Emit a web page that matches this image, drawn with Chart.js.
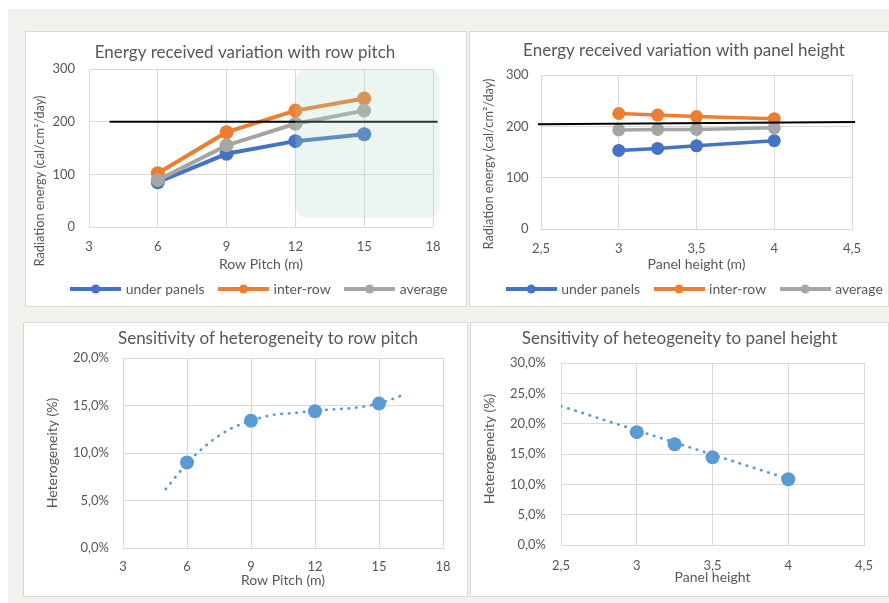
<!DOCTYPE html>
<html>
<head>
<meta charset="utf-8">
<script src="https://cdn.jsdelivr.net/npm/chart.js@4.4.1/dist/chart.umd.min.js"></script>
<style>
  body { margin: 0; background: #fff; width: 889px; height: 603px; overflow: hidden; }
  .sheet { position: absolute; left: 8px; top: 9px; width: 881px; height: 594px; background: #f2f1ed; }
  .panel { position: absolute; background: #fff; border: 1px solid #d9d9d9; }
  .panel canvas { display: block; }
</style>
</head>
<body>
<div class="sheet"></div>
<div class="panel" style="left:25px;top:31px;"><canvas id="pitchEnergy" width="440" height="274"></canvas></div>
<div class="panel" style="left:469px;top:31px;"><canvas id="heightEnergy" width="418" height="274"></canvas></div>
<div class="panel" style="left:23px;top:322px;"><canvas id="pitchHetero" width="443" height="273"></canvas></div>
<div class="panel" style="left:470px;top:322px;"><canvas id="heightHetero" width="417" height="273"></canvas></div>
<script>
// row pitch study (m) -> radiation energy (cal/cm2/day)
const pitchValues = [6, 9, 12, 15];
const pitchUnderPanels = [85, 139, 163, 176];
const pitchInterRow = [102, 180, 221, 244];
const pitchAverage = [89, 155, 196, 221];
const pitchRefX = [3.9, 18.2];
const pitchRefY = [200, 200];
const pitchZoneX = [12, 18.3];
const pitchZoneY = [17, 300];
const pitchTicks = [3, 6, 9, 12, 15, 18];
const energyTicks = [0, 100, 200, 300];

// panel height study (m)
const heightValues = [3, 3.25, 3.5, 4];
const heightUnderPanels = [153, 157, 162, 172];
const heightInterRow = [225, 222, 219, 215];
const heightAverage = [193, 194, 194, 197];
const heightRefX = [2.48, 4.52];
const heightRefY = [204, 208.5];
const heightTicks = [2.5, 3, 3.5, 4, 4.5];

// heterogeneity (%)
const pitchHetero = [9.0, 13.4, 14.4, 15.2];
const pitchTrendX = [5, 6, 7, 8, 9, 10, 11, 12, 13, 14, 15, 16];
const pitchTrendY = [6.2, 8.9, 11.0, 12.5, 13.4, 14.0, 14.2, 14.45, 14.6, 14.8, 15.2, 16.0];
const heightHetero = [18.6, 16.6, 14.45, 10.85];
const heightTrendX = [2.5, 4];
const heightTrendY = [22.9, 10.9];
const heteroPitchTicks = [0, 5, 10, 15, 20];
const heteroHeightTicks = [0, 5, 10, 15, 20, 25, 30];

const BLUE = '#4472C4', ORANGE = '#ED7D31', GREY = '#A5A5A5', LIGHTBLUE = '#5B9BD5';
const GRID = '#d9d9d9', TEXT = '#575757';
const FONT = "Lato, 'Open Sans', sans-serif";

Chart.defaults.font.family = FONT;
Chart.defaults.color = TEXT;
Chart.defaults.animation = false;

const toPoints = (xs, ys) => xs.map((x, i) => ({ x, y: ys[i] }));
const plain = v => v;
const comma = v => String(v).replace('.', ',');
const pct = v => v.toFixed(1).replace('.', ',') + '%';

// legend marker: thick line with a dot in the middle, like the spreadsheet
const legendSwatch = color => {
    const c = document.createElement('canvas');
    c.width = 51;
    c.height = 10;
    const g = c.getContext('2d');
    g.strokeStyle = color;
    g.lineWidth = 4;
    g.beginPath();
    g.moveTo(0, 5);
    g.lineTo(51, 5);
    g.stroke();
    g.fillStyle = color;
    g.beginPath();
    g.arc(25.5, 5, 4.5, 0, Math.PI * 2);
    g.fill();
    return c;
};

// vertical axis title, placed like the spreadsheet does (not centred on the axis)
const axisTitle = {
    id: 'axisTitle',
    afterDraw(chart, args, opts) {
        if (!opts.text) return;
        const ctx = chart.ctx;
        ctx.save();
        ctx.translate(opts.x, opts.y);
        ctx.rotate(-Math.PI / 2);
        ctx.font = (opts.size || 14) + 'px ' + FONT;
        ctx.fillStyle = TEXT;
        ctx.textAlign = 'center';
        ctx.textBaseline = 'middle';
        ctx.fillText(opts.text, 0, 0);
        ctx.restore();
    }
};

const shiftBoxes = {
    id: 'shiftBoxes',
    afterLayout(chart, args, opts) {
        [[chart.titleBlock, opts.title], [chart.legend, opts.legend]].forEach(([box, dx]) => {
            if (box && dx) {
                box.left += dx;
                box.right += dx;
            }
        });
    }
};

// shaded area drawn over the plot
const zone = {
    id: 'zone',
    afterDatasetsDraw(chart, args, opts) {
        if (!opts.xs) return;
        const { x, y } = chart.scales;
        const left = x.getPixelForValue(opts.xs[0]);
        const right = x.getPixelForValue(opts.xs[1]);
        const top = y.getPixelForValue(opts.ys[1]);
        const bottom = y.getPixelForValue(opts.ys[0]);
        const ctx = chart.ctx;
        ctx.save();
        ctx.fillStyle = 'rgba(170, 220, 190, 0.25)';
        ctx.beginPath();
        ctx.roundRect(left, top, right - left, bottom - top, 12);
        ctx.fill();
        ctx.restore();
    }
};

const xAxis = (ticks, fmt, text, g) => ({
    type: 'linear',
    min: ticks[0],
    max: ticks[ticks.length - 1],
    afterBuildTicks: scale => { scale.ticks = ticks.map(value => ({ value })); },
    afterFit: scale => { scale.height = g.xHeight; },
    grid: { color: GRID, drawTicks: false },
    border: { color: GRID },
    ticks: { padding: g.xPad, font: { size: 13 }, maxRotation: 0, autoSkip: false, callback: fmt },
    title: { display: true, text, font: { size: 14 }, padding: { top: 0, bottom: g.xTitlePad } }
});

const yAxis = (ticks, fmt, g) => ({
    type: 'linear',
    min: ticks[0],
    max: ticks[ticks.length - 1],
    afterBuildTicks: scale => { scale.ticks = ticks.map(value => ({ value })); },
    afterFit: scale => { scale.width = g.left; },
    grid: { color: GRID, drawTicks: false },
    border: { color: GRID },
    ticks: { padding: g.yPad, font: { size: 13 }, callback: fmt }
});

// empty axis on the right, only keeps the plot narrower than the title / legend
const spacer = g => ({
    type: 'linear',
    position: 'right',
    grid: { display: false },
    border: { display: false },
    ticks: { display: false },
    afterFit: scale => { scale.width = g.right; }
});

const seriesLine = (label, xs, ys, color, radius, width, order) => ({
    label,
    data: toPoints(xs, ys),
    showLine: true,
    borderColor: color,
    backgroundColor: color,
    borderWidth: width,
    pointRadius: radius,
    pointHoverRadius: radius,
    pointBorderWidth: 0,
    order
});

const refLine = (xs, ys) => ({
    label: 'ref',
    data: toPoints(xs, ys),
    showLine: true,
    borderColor: '#000',
    borderWidth: 2,
    pointRadius: 0,
    clip: false,
    order: 0
});

const energyLegend = () => {
    const swatches = [BLUE, ORANGE, GREY].map(legendSwatch);
    return {
        position: 'bottom',
        labels: {
            usePointStyle: true,
            pointStyleWidth: 46,
            padding: 16,
            color: TEXT,
            font: { size: 14 },
            filter: item => item.datasetIndex < 3,
            sort: (a, b) => a.datasetIndex - b.datasetIndex,
            generateLabels: chart => Chart.defaults.plugins.legend.labels.generateLabels(chart)
                .map(item => ({ ...item, pointStyle: swatches[item.datasetIndex] }))
        }
    };
};

const chartTitle = (text, pad) => ({
    display: true,
    text,
    color: TEXT,
    font: { size: 17, weight: 'normal' },
    padding: pad
});

const buildEnergyChart = (id, title, xs, under, inter, avg, refX, refY, xTicks, xFmt, xText, radius, width, g, zoneOpts) => {
    new Chart(document.getElementById(id), {
        type: 'scatter',
        data: {
            datasets: [
                seriesLine('under panels', xs, under, BLUE, radius, width, 3),
                seriesLine('inter-row', xs, inter, ORANGE, radius, width, 2),
                seriesLine('average', xs, avg, GREY, radius, width, 1),
                refLine(refX, refY)
            ]
        },
        options: {
            responsive: false,
            layout: { padding: 0 },
            scales: {
                x: xAxis(xTicks, xFmt, xText, g),
                y: yAxis(energyTicks, plain, g),
                pad: spacer(g)
            },
            plugins: {
                title: chartTitle(title, g.titlePad),
                legend: energyLegend(),
                tooltip: { enabled: false },
                axisTitle: { text: 'Radiation energy (cal/cm\u00b2/day)', x: g.yTitle[0], y: g.yTitle[1], size: 12.8 },
                shiftBoxes: g.shift,
                zone: zoneOpts || {}
            }
        },
        plugins: [axisTitle, shiftBoxes, zone]
    });
};

const buildHeteroChart = (id, title, xs, ys, trendX, trendY, xTicks, xFmt, xText, yTicks, g) => {
    new Chart(document.getElementById(id), {
        type: 'scatter',
        data: {
            datasets: [
                {
                    label: 'heterogeneity',
                    data: toPoints(xs, ys),
                    backgroundColor: LIGHTBLUE,
                    borderColor: LIGHTBLUE,
                    pointRadius: 7,
                    pointBorderWidth: 0,
                    order: 0
                },
                {
                    label: 'trend',
                    data: toPoints(trendX, trendY),
                    showLine: true,
                    borderColor: LIGHTBLUE,
                    borderWidth: 2.7,
                    borderDash: [0.5, 7],
                    borderCapStyle: 'round',
                    cubicInterpolationMode: 'monotone',
                    pointRadius: 0,
                    order: 1
                }
            ]
        },
        options: {
            responsive: false,
            layout: { padding: 0 },
            scales: {
                x: xAxis(xTicks, xFmt, xText, g),
                y: yAxis(yTicks, pct, g),
                pad: spacer(g)
            },
            plugins: {
                title: chartTitle(title, g.titlePad),
                legend: { display: false },
                tooltip: { enabled: false },
                axisTitle: { text: 'Heterogeneity (%)', x: g.yTitle[0], y: g.yTitle[1], size: 14 },
                shiftBoxes: g.shift
            }
        },
        plugins: [axisTitle, shiftBoxes]
    });
};

buildEnergyChart('pitchEnergy', 'Energy received variation with row pitch',
    pitchValues, pitchUnderPanels, pitchInterRow, pitchAverage, pitchRefX, pitchRefY,
    pitchTicks, plain, 'Row Pitch (m)', 7, 4,
    { left: 63, right: 33, titlePad: { top: 10.8, bottom: 5.8 }, xHeight: 39, xPad: 12, xTitlePad: -6.4, yPad: 14,
      yTitle: [14, 149], shift: { title: -1, legend: 14 } },
    { xs: pitchZoneX, ys: pitchZoneY });

buildEnergyChart('heightEnergy', 'Energy received variation with panel height',
    heightValues, heightUnderPanels, heightInterRow, heightAverage, heightRefX, heightRefY,
    heightTicks, comma, 'Panel height (m)', 6.5, 3.5,
    { left: 71, right: 36, titlePad: { top: 8.8, bottom: 13.8 }, xHeight: 37, xPad: 12, xTitlePad: -6.4, yPad: 12.5,
      yTitle: [19, 132], shift: { title: 5, legend: 16.5 } });

buildHeteroChart('pitchHetero', 'Sensitivity of heterogeneity to row pitch',
    pitchValues, pitchHetero, pitchTrendX, pitchTrendY,
    pitchTicks, plain, 'Row Pitch (m)', heteroPitchTicks,
    { left: 99, right: 24, titlePad: { top: 5.8, bottom: 8.8 }, xHeight: 48, xPad: 11, xTitlePad: 7.6, yPad: 14,
      yTitle: [28, 130], shift: { title: 22.5 } });

buildHeteroChart('heightHetero', 'Sensitivity of heteogeneity to panel height',
    heightValues, heightHetero, heightTrendX, heightTrendY,
    heightTicks, comma, 'Panel height', heteroHeightTicks,
    { left: 90, right: 24, titlePad: { top: 5.8, bottom: 13.8 }, xHeight: 51, xPad: 13.5, xTitlePad: 10.6, yPad: 15,
      yTitle: [18, 126], shift: {} });
</script>
</body>
</html>
